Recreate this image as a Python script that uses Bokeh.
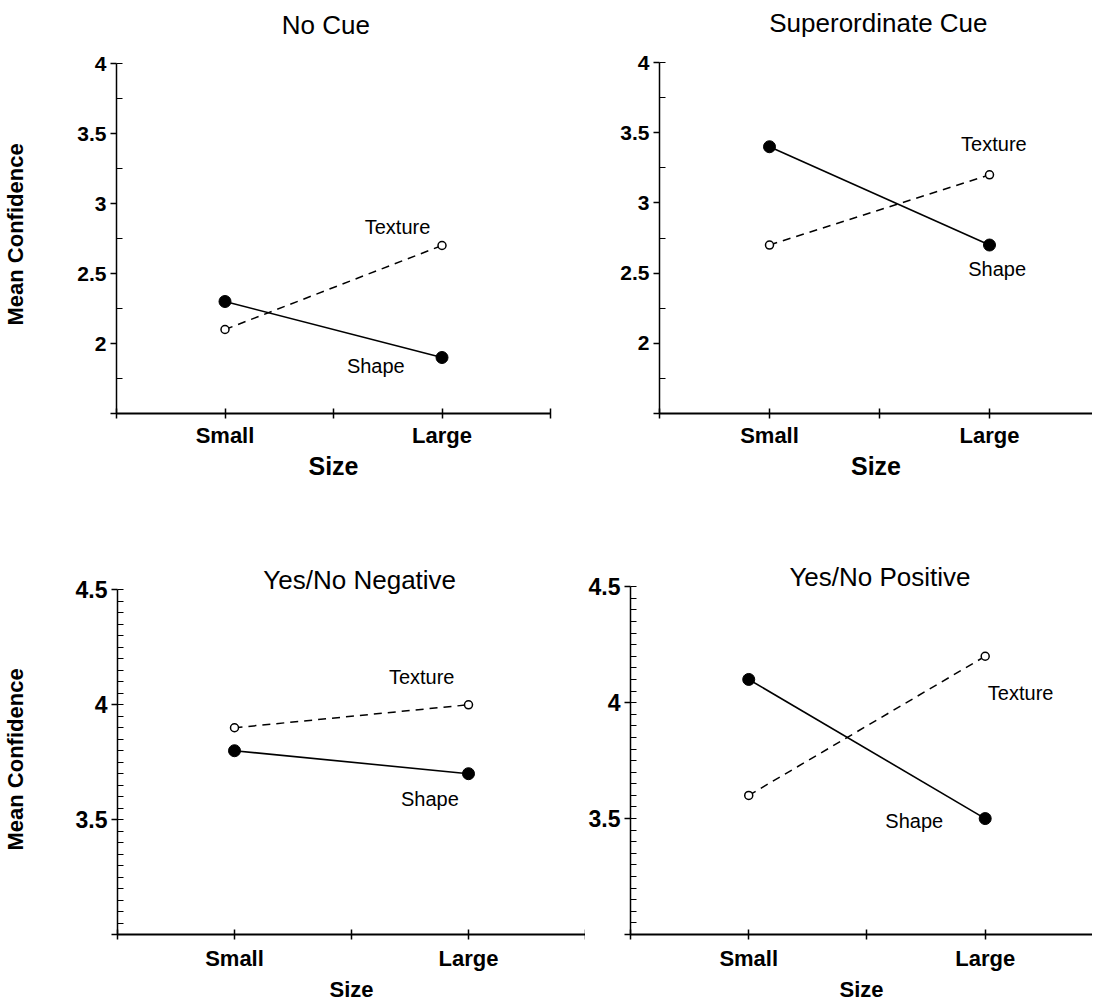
from bokeh.plotting import figure
from bokeh.layouts import column, row
from bokeh.models import FixedTicker, Label, Range1d, Title
from bokeh.embed import file_html
from bokeh.resources import INLINE

# ---------------- data ----------------
sizes = ["Small", "Large"]
size_x = [1, 3]

titles = ["No Cue", "Superordinate Cue", "Yes/No Negative", "Yes/No Positive"]

shape_no_cue = [2.3, 1.9]
texture_no_cue = [2.1, 2.7]
shape_super = [3.4, 2.7]
texture_super = [2.7, 3.2]
shape_neg = [3.8, 3.7]
texture_neg = [3.9, 4.0]
shape_pos = [4.1, 3.5]
texture_pos = [3.6, 4.2]

top_yticks = [1.5, 2, 2.5, 3, 3.5, 4]
top_ylabels = ["", "2", "2.5", "3", "3.5", "4"]
bot_yticks = [3.0, 3.5, 4, 4.5]
bot_ylabels = ["", "3.5", "4", "4.5"]

# series label anchor points (data units)
texture_label_xy = [(2.59, 2.83), (3.04, 3.42), (2.6, 4.12), (3.3, 4.04)]
shape_label_xy = [(2.39, 1.84), (3.07, 2.53), (2.67, 3.59), (2.4, 3.49)]

FONT = "Liberation Sans"


def make_panel(title, shape, texture, yticks, ylabels, minor, ylo, yhi,
               width, height, left, right, bottom, px_x, px_y,
               title_x, title_y, tex_xy, shp_xy, ylab_offset,
               tick_font, xlab_font, size_font, xstand, size_stand, ylab_space):
    frame_w = width - left - right
    frame_h = height - bottom
    xend = frame_w / px_x
    ytop = ylo + frame_h / px_y
    p = figure(width=width, height=height, output_backend="svg",
               toolbar_location=None, x_range=Range1d(0, xend),
               y_range=Range1d(ylo, ytop),
               min_border_left=left, min_border_right=right,
               min_border_top=0, min_border_bottom=bottom)
    p.outline_line_color = None
    p.grid.visible = False
    p.background_fill_color = "white"
    p.border_fill_color = "white"

    # data
    p.line(size_x, texture, line_color="black", line_width=1.5, line_dash="8 6")
    p.line(size_x, shape, line_color="black", line_width=1.6)
    p.scatter(size_x, shape, marker="circle", size=12, fill_color="black",
              line_color="black")
    p.scatter(size_x, texture, marker="circle", size=8, fill_color="white",
              line_color="black", line_width=1.5)

    # x axis
    xa = p.xaxis[0]
    xa.bounds = (0, 4)
    xa.ticker = FixedTicker(ticks=[0, 1, 2, 3, 4])
    xa.major_label_overrides = {0: "", 1: sizes[0], 2: "", 3: sizes[1], 4: ""}
    xa.axis_line_width = 2
    xa.axis_line_color = "black"
    xa.major_tick_in = 5
    xa.major_tick_out = 5
    xa.major_tick_line_width = 1.5
    xa.minor_tick_line_color = None
    xa.major_label_text_font = FONT
    xa.major_label_text_font_style = "bold"
    xa.major_label_text_font_size = xlab_font
    xa.major_label_text_color = "black"
    xa.major_label_standoff = xstand
    xa.axis_label = "Size"
    xa.axis_label_text_font = FONT
    xa.axis_label_text_font_style = "bold"
    xa.axis_label_text_font_size = size_font
    xa.axis_label_text_color = "black"
    xa.axis_label_standoff = size_stand

    # y axis
    ya = p.yaxis[0]
    ya.bounds = (ylo, yhi)
    ya.ticker = FixedTicker(ticks=yticks, minor_ticks=minor)
    ya.major_label_overrides = {t: l for t, l in zip(yticks, ylabels)}
    ya.axis_line_width = 1.5
    ya.axis_line_color = "black"
    ya.major_tick_in = 0
    ya.major_tick_out = 6
    ya.major_tick_line_width = 1.5
    ya.minor_tick_in = 6
    ya.minor_tick_out = 0
    ya.minor_tick_line_width = 1.2
    ya.major_label_text_font = FONT
    ya.major_label_text_font_style = "bold"
    ya.major_label_text_font_size = tick_font
    ya.major_label_text_color = "black"
    ya.major_label_standoff = 4
    if ylab_offset is not None:
        # blank spacer label, then the real label as a side title
        ya.axis_label = " "
        ya.axis_label_text_font_size = "10px"
        ya.axis_label_standoff = ylab_space
        p.add_layout(Title(text="Mean Confidence", align="left",
                           offset=ylab_offset, standoff=0,
                           vertical_align="bottom",
                           text_font=FONT, text_font_style="bold",
                           text_font_size="22px", text_color="black"), "left")

    # panel title (inside the frame, above the axis top)
    p.add_layout(Label(x=title_x, y=title_y, x_units="data", y_units="screen",
                       text=title, text_align="center", text_baseline="middle",
                       text_font=FONT, text_font_size="26px", text_color="black"))
    # series labels
    p.add_layout(Label(x=tex_xy[0], y=tex_xy[1], text="Texture",
                       text_align="center", text_baseline="middle",
                       text_font=FONT, text_font_size="20px", text_color="black"))
    p.add_layout(Label(x=shp_xy[0], y=shp_xy[1], text="Shape",
                       text_align="center", text_baseline="middle",
                       text_font=FONT, text_font_size="20px", text_color="black"))
    return p


top_minor = [1.75, 2.25, 2.75, 3.25, 3.75, 4]
bot_minor = [round(3.05 + 0.05 * i, 2) for i in range(29)] + [4.5]

p1 = make_panel(titles[0], shape_no_cue, texture_no_cue, top_yticks, top_ylabels,
                top_minor, 1.5, 4, 568, 500, 116, 18, 87, 108.5, 140,
                1.93, 389, texture_label_xy[0], shape_label_xy[0], 88,
                "21px", "22px", "25px", 4, 1, 33)
p2 = make_panel(titles[1], shape_super, texture_super, top_yticks, top_ylabels,
                top_minor, 1.5, 4, 524, 500, 91, 0, 87, 110, 140.4,
                1.99, 391, texture_label_xy[1], shape_label_xy[1], None,
                "21px", "22px", "25px", 4, 1, 0)
p3 = make_panel(titles[2], shape_neg, texture_neg, bot_yticks, bot_ylabels,
                bot_minor, 3.0, 4.5, 585, 504, 117, 0, 67, 117, 231.3,
                2.07, 355, texture_label_xy[2], shape_label_xy[2], 84,
                "23px", "22px", "22px", 6, 3, 31)
p4 = make_panel(titles[3], shape_pos, texture_pos, bot_yticks, bot_ylabels,
                bot_minor, 3.0, 4.5, 507, 504, 42, 0, 66, 119, 234,
                2.11, 358, texture_label_xy[3], shape_label_xy[3], None,
                "23px", "22px", "22px", 6, 3, 0)

layout = column(row(p1, p2), row(p3, p4))
open("out.html", "w").write(file_html(layout, INLINE))
